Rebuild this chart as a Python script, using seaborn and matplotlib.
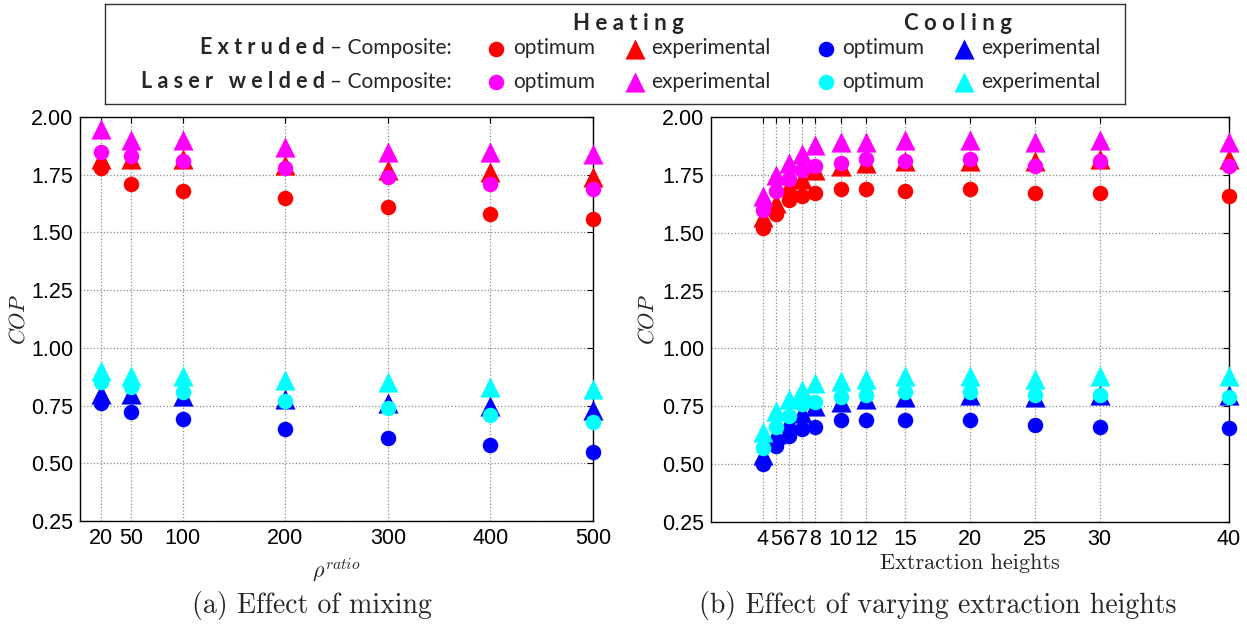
import matplotlib
matplotlib.use('Agg')
import matplotlib.pyplot as plt
import matplotlib.ticker as mticker
import seaborn as sns

# x positions
rho = [20, 50, 100, 200, 300, 400, 500]
heights = [4, 5, 6, 7, 8, 10, 12, 15, 20, 25, 30, 40]
height_labels = ['4', '5', '6', '7', '8', '10', '12', '15', '20', '25', '30', '40']
cop_ticks = [0.25, 0.50, 0.75, 1.00, 1.25, 1.50, 1.75, 2.00]

# (a) effect of mixing
ext_heat_opt_a = [1.78, 1.71, 1.68, 1.65, 1.61, 1.58, 1.56]
ext_heat_exp_a = [1.82, 1.82, 1.82, 1.79, 1.77, 1.76, 1.74]
las_heat_opt_a = [1.85, 1.83, 1.81, 1.78, 1.74, 1.71, 1.69]
las_heat_exp_a = [1.95, 1.90, 1.90, 1.87, 1.85, 1.85, 1.84]
ext_cool_opt_a = [0.76, 0.72, 0.69, 0.65, 0.61, 0.58, 0.55]
ext_cool_exp_a = [0.80, 0.80, 0.79, 0.78, 0.76, 0.75, 0.73]
las_cool_opt_a = [0.85, 0.83, 0.81, 0.77, 0.74, 0.71, 0.68]
las_cool_exp_a = [0.90, 0.88, 0.88, 0.86, 0.85, 0.83, 0.82]

# (b) effect of varying extraction heights
ext_heat_opt_b = [1.52, 1.58, 1.64, 1.66, 1.67, 1.69, 1.69, 1.68, 1.69, 1.67, 1.67, 1.66]
ext_heat_exp_b = [1.57, 1.63, 1.70, 1.73, 1.77, 1.79, 1.80, 1.81, 1.81, 1.81, 1.82, 1.82]
las_heat_opt_b = [1.60, 1.68, 1.73, 1.77, 1.79, 1.80, 1.82, 1.81, 1.82, 1.79, 1.81, 1.79]
las_heat_exp_b = [1.66, 1.75, 1.80, 1.84, 1.88, 1.89, 1.89, 1.90, 1.90, 1.89, 1.90, 1.89]
ext_cool_opt_b = [0.50, 0.58, 0.62, 0.65, 0.66, 0.69, 0.69, 0.69, 0.69, 0.67, 0.66, 0.655]
ext_cool_exp_b = [0.54, 0.63, 0.68, 0.72, 0.75, 0.77, 0.78, 0.79, 0.80, 0.79, 0.80, 0.80]
las_cool_opt_b = [0.57, 0.66, 0.71, 0.76, 0.77, 0.79, 0.80, 0.81, 0.81, 0.80, 0.80, 0.79]
las_cool_exp_b = [0.64, 0.73, 0.78, 0.82, 0.85, 0.86, 0.87, 0.88, 0.88, 0.87, 0.88, 0.88]

RED, MAGENTA, BLUE, CYAN = '#ff0000', '#ff00ff', '#0000ff', '#00ffff'
TICK_FONT = ['Liberation Sans', 'DejaVu Sans']
LEG_FONT = ['Lato', 'DejaVu Sans']

sns.set_style('white')
plt.rcParams['font.family'] = TICK_FONT
plt.rcParams['mathtext.fontset'] = 'cm'


def draw(ax, x, y, color, marker):
    size = 125 if marker == 'o' else 210
    sns.scatterplot(x=x, y=y, color=color, marker=marker, s=size, linewidth=0,
                    ax=ax, clip_on=False, zorder=3)
    return ax.collections[-1]


def style_axes(ax, xlim, xticks, xticklabels):
    ax.set_xlim(*xlim)
    ax.set_ylim(0.25, 2.0)
    ax.set_xticks(xticks)
    ax.set_xticklabels(xticklabels)
    ax.set_yticks(cop_ticks)
    ax.yaxis.set_major_formatter(mticker.FormatStrFormatter('%.2f'))
    ax.grid(True, linestyle=':', color='#8c8c8c', linewidth=0.9)
    ax.set_axisbelow(True)
    ax.tick_params(direction='in', top=True, right=True, length=4, width=0.8,
                   labelsize=15.5, colors='black', pad=5)
    for sp in ax.spines.values():
        sp.set_visible(True)
        sp.set_color('black')
        sp.set_linewidth(1.0)
    ax.set_ylabel(r'$COP$', fontsize=16, labelpad=6)


fig = plt.figure(figsize=(12.47, 6.25), dpi=100)
ax_a = fig.add_axes([80 / 1247, 1 - 521 / 625, 513 / 1247, 404 / 625])
ax_b = fig.add_axes([711 / 1247, 1 - 522 / 625, 518 / 1247, 405 / 625])

handles = {}
for ax, x, series in [
    (ax_a, rho, [ext_heat_exp_a, ext_heat_opt_a, las_heat_exp_a, las_heat_opt_a,
                 ext_cool_exp_a, ext_cool_opt_a, las_cool_exp_a, las_cool_opt_a]),
    (ax_b, heights, [ext_heat_exp_b, ext_heat_opt_b, las_heat_exp_b, las_heat_opt_b,
                     ext_cool_exp_b, ext_cool_opt_b, las_cool_exp_b, las_cool_opt_b]),
]:
    keys = ['reT', 'reO', 'maT', 'maO', 'blT', 'blO', 'cyT', 'cyO']
    cols = [RED, RED, MAGENTA, MAGENTA, BLUE, BLUE, CYAN, CYAN]
    for k, c, y in zip(keys, cols, series):
        handles[k] = draw(ax, x, y, c, '^' if k.endswith('T') else 'o')

style_axes(ax_a, (0, 500), rho, [str(r) for r in rho])
style_axes(ax_b, (0, 40), heights, height_labels)

ax_a.set_xlabel(r'$\rho^{ratio}$', fontsize=16)
ax_a.xaxis.set_label_coords(0.5, -0.088)
ax_b.set_xlabel('Extraction heights', fontsize=16, family='cmr10')
ax_b.xaxis.set_label_coords(0.5, -0.078)
ax_a.yaxis.set_label_coords(-0.099, 0.5)
ax_b.yaxis.set_label_coords(-0.102, 0.5)

fig.text(312 / 1247, 0.032, '(a) Effect of mixing', family='cmr10',
         fontsize=20, ha='center', va='center')
fig.text(938 / 1247, 0.032, '(b) Effect of varying extraction heights', family='cmr10',
         fontsize=20, ha='center', va='center')

# legend block
ax_leg = fig.add_axes([105 / 1247, 1 - 104 / 625, 1020 / 1247, 100 / 625])
ax_leg.set_xticks([])
ax_leg.set_yticks([])
for sp in ax_leg.spines.values():
    sp.set_visible(True)
    sp.set_color('#333333')
    sp.set_linewidth(1.0)

leg_kw = dict(ncol=2, frameon=False, loc='center', scatterpoints=1,
              prop={'family': LEG_FONT, 'size': 15}, handlelength=1.0,
              handletextpad=0.3, columnspacing=1.4, labelspacing=0.65,
              borderpad=0, borderaxespad=0)
leg_h = ax_leg.legend([handles['reO'], handles['maO'], handles['reT'], handles['maT']],
                      ['optimum', 'optimum', 'experimental', 'experimental'],
                      bbox_to_anchor=(0.513, 0.39), **leg_kw)
ax_leg.add_artist(leg_h)
ax_leg.legend([handles['blO'], handles['cyO'], handles['blT'], handles['cyT']],
              ['optimum', 'optimum', 'experimental', 'experimental'],
              bbox_to_anchor=(0.836, 0.39), **leg_kw)

ax_leg.text(0.513, 0.80, 'H e a t i n g', family=LEG_FONT, fontweight='bold',
            fontsize=16, ha='center', va='center', transform=ax_leg.transAxes)
ax_leg.text(0.836, 0.80, 'C o o l i n g', family=LEG_FONT, fontweight='bold',
            fontsize=16, ha='center', va='center', transform=ax_leg.transAxes)
for ypos, name in [(0.56, 'E x t r u d e d'), (0.22, 'L a s e r   w e l d e d')]:
    t = ax_leg.text(0.340, ypos, '\u2013 Composite:', family=LEG_FONT, fontsize=15,
                    ha='right', va='center', transform=ax_leg.transAxes)
    ax_leg.annotate(name, xy=(0, 0.5), xycoords=t, xytext=(-4, 0),
                    textcoords='offset points', family=LEG_FONT, fontweight='bold',
                    fontsize=15.5, ha='right', va='center')

fig.savefig('out.png', dpi=100)
